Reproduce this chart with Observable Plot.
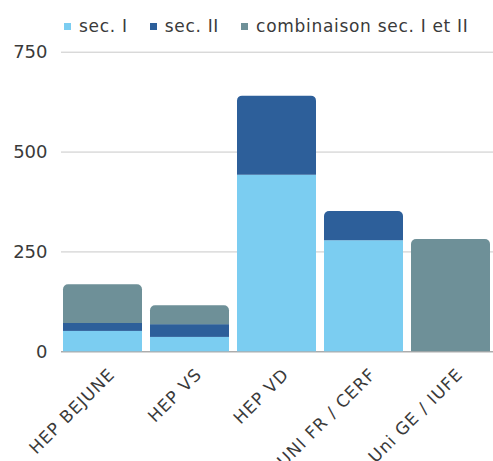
<!DOCTYPE html>
<html>
<head>
<meta charset="utf-8">
<script src="https://cdn.jsdelivr.net/npm/d3@7"></script>
<script src="https://cdn.jsdelivr.net/npm/@observablehq/plot@0.6"></script>
<style>
  body { margin: 0; background: #fff; font-family: "DejaVu Sans", sans-serif; }
  #legend { height: 40px; display: flex; align-items: center; padding-left: 64px; padding-top: 12px; box-sizing: border-box; font-size: 17px; letter-spacing: 0.7px; color: #3a3a3a; }
  #legend .item { display: flex; align-items: center; margin-right: 22px; }
  #legend .sw { width: 7px; height: 7px; margin-right: 8px; }
</style>
</head>
<body>
<div id="legend"></div>
<div id="chart"></div>
<script>
const categories = ["HEP BEJUNE", "HEP VS", "HEP VD", "UNI FR / CERF", "Uni GE / IUFE"];
const seriesNames = ["sec. I", "sec. II", "combinaison sec. I et II"];
const secI = [51, 36, 442, 278, 0];
const secII = [20, 32, 198, 73, 0];
const combinaison = [97, 47, 0, 0, 281];
const yTicks = [0, 250, 500, 750];
const colors = ["#7bcdf1", "#2d5f9a", "#6e9098"];

const seriesValues = [secI, secII, combinaison];
const data = [];
categories.forEach((c, i) => {
  // index of the topmost non-zero segment of this stack
  let top = 2; while (top > 0 && seriesValues[top][i] === 0) top--;
  seriesValues.forEach((vals, s) => {
    data.push({ category: c, series: seriesNames[s], value: vals[i], top: s === top });
  });
});

// legend
const leg = document.getElementById("legend");
seriesNames.forEach((n, i) => {
  const it = document.createElement("div"); it.className = "item";
  const sw = document.createElement("div"); sw.className = "sw"; sw.style.background = colors[i];
  const tx = document.createElement("span"); tx.textContent = n;
  it.appendChild(sw); it.appendChild(tx); leg.appendChild(it);
});

const stackOpts = { x: "category", y: "value", fill: "series", order: seriesNames };
const chart = Plot.plot({
  width: 493,
  height: 421,
  marginLeft: 61,
  marginRight: 0,
  marginTop: 11.7,
  marginBottom: 109.7,
  style: { fontFamily: "DejaVu Sans, sans-serif", color: "#3a3a3a", background: "#fff" },
  x: { domain: categories, paddingInner: 0.0909, paddingOuter: 0, label: null },
  y: { domain: [0, 750], ticks: yTicks, label: null },
  color: { domain: seriesNames, range: colors },
  marks: [
    Plot.gridY(yTicks, { stroke: "#c8c8c8", strokeOpacity: 1 }),
    Plot.ruleY([0], { stroke: "#9a9a9a" }),
    // lower segments (square corners)
    Plot.barY(data, Plot.stackY({ ...stackOpts, fillOpacity: d => d.top ? 0 : 1 })),
    // top segments (rounded top corners)
    Plot.barY(data, Plot.stackY({ ...stackOpts, fillOpacity: d => d.top ? 1 : 0, ry1: 5, rx1y1: 5, rx2y1: 5 })),
    Plot.axisY(yTicks, { tickSize: 0, tickPadding: 14, fontSize: 18, label: null }),
    Plot.axisX({ tickSize: 0, tickRotate: -45, fontSize: 17, dx: 9, dy: 8, label: null })
  ]
});
chart.querySelectorAll("[aria-label='x-axis tick label'] text").forEach(t => t.style.letterSpacing = "1px");
document.getElementById("chart").appendChild(chart);
</script>
</body>
</html>
